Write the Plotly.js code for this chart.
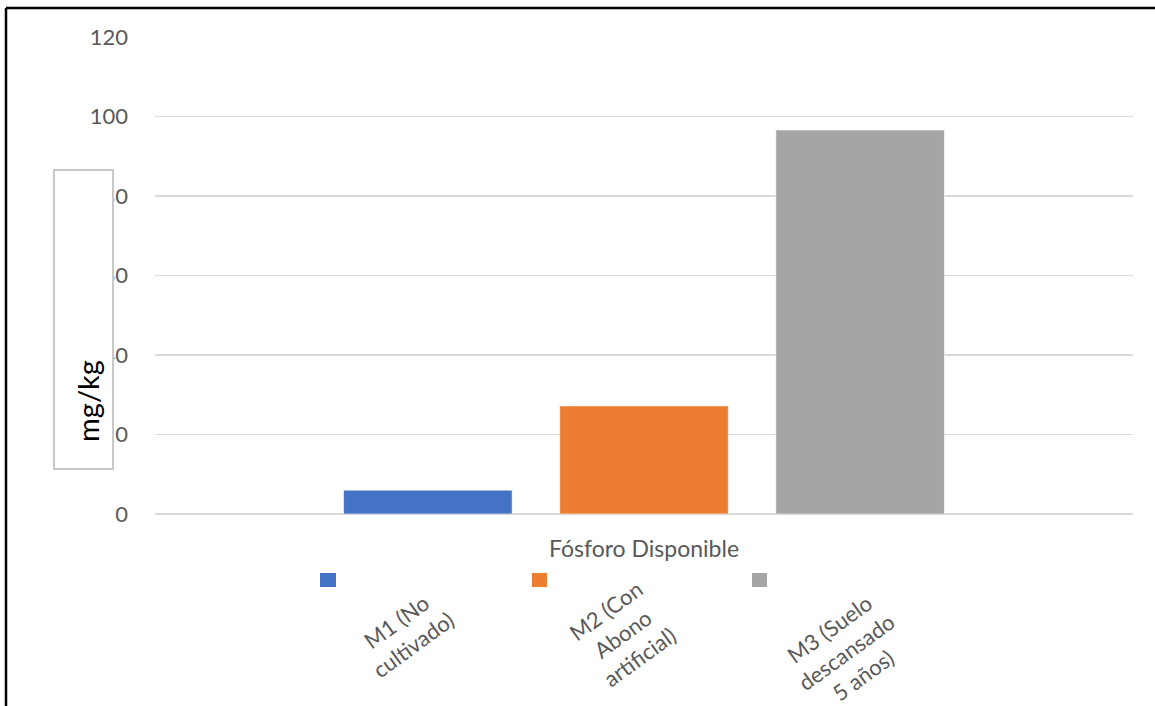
<!DOCTYPE html>
<html>
<head>
<meta charset="utf-8">
<script src="https://cdn.plot.ly/plotly-3.0.1.min.js"></script>
<style>html,body{margin:0;padding:0;background:#fff;}#chart{width:1155px;height:706px;}</style>
</head>
<body>
<div id="chart"></div>
<script>
const category = ["Fósforo Disponible"];
const seriesNames = ["M1 (No cultivado)", "M2 (Con Abono artificial)", "M3 (Suelo descansado 5 años)"];
const seriesLabelLines = ["M1 (No<br>cultivado)", "M2 (Con<br>Abono<br>artificial)", "M3 (Suelo<br>descansado<br>5 años)"];
const seriesValues = [6.0, 27.2, 96.6];
const seriesColors = ["#4472C4", "#ED7D31", "#A5A5A5"];
const yTicks = [0, 20, 40, 60, 80, 100, 120];

const textColor = "#595959";
const fontFam = "Lato, 'Open Sans', sans-serif";

const traces = seriesNames.map((n, i) => ({
  type: "bar",
  name: n,
  x: category,
  y: [seriesValues[i]],
  marker: {color: seriesColors[i], line: {color: "rgba(255,255,255,0.6)", width: 1}},
  showlegend: false,
  hoverinfo: "y+name"
}));

// pixel -> paper helpers (plot area 155..1133 x, 37..514 y)
const L = 155, R = 1133, T = 37, B = 514;
const px = v => (v - L) / (R - L);
const py = v => (B - v) / (B - T);

const legendSquares = [[320, 336], [532, 547], [752, 767]];
const legendCenters = [[405, 633], [622, 634], [846, 652]];

const shapes = [
  {type: "line", xref: "paper", yref: "paper", x0: px(6), x1: px(1160), y0: py(8), y1: py(8), line: {color: "#000", width: 2.5}},
  {type: "line", xref: "paper", yref: "paper", x0: px(6), x1: px(6), y0: py(8), y1: py(720), line: {color: "#000", width: 2.5}},
  {type: "rect", xref: "paper", yref: "paper", layer: "above", x0: px(54), x1: px(113), y0: py(170), y1: py(469), fillcolor: "#fff", line: {color: "#c8c8c8", width: 2}}
];
legendSquares.forEach((s, i) => {
  shapes.push({type: "rect", xref: "paper", yref: "paper", x0: px(s[0]), x1: px(s[1]), y0: py(587), y1: py(573), fillcolor: seriesColors[i], line: {width: 0}});
});

const annotations = [
  {xref: "paper", yref: "paper", x: px(87), y: py(401), text: "mg/kg", textangle: -90, showarrow: false, xanchor: "center", yanchor: "middle", font: {family: fontFam, size: 29, color: "#000"}}
];
legendCenters.forEach((c, i) => {
  annotations.push({xref: "paper", yref: "paper", x: px(c[0]), y: py(c[1]), text: seriesLabelLines[i], textangle: -36, showarrow: false, xanchor: "center", yanchor: "middle", align: "center", font: {family: fontFam, size: 22, color: textColor}});
});

const layout = {
  width: 1155, height: 706,
  margin: {l: L, r: 1155 - R, t: T, b: 706 - B, pad: 0},
  paper_bgcolor: "#fff", plot_bgcolor: "#fff",
  barmode: "group", bargap: 0.337, bargroupgap: 0.22,
  font: {family: fontFam, color: textColor},
  xaxis: {type: "category", range: [-0.5, 0.5], showgrid: false, zeroline: false, showline: false, ticks: "", ticklabelstandoff: 19, tickfont: {family: fontFam, size: 23, color: textColor}, fixedrange: true},
  yaxis: {range: [0, 120], tickvals: yTicks, ticktext: yTicks.map(String), showgrid: true, gridcolor: "#d9d9d9", gridwidth: 1.5, zeroline: true, zerolinecolor: "#d9d9d9", zerolinewidth: 1.5, showline: false, ticks: "", ticklabelstandoff: 26, tickfont: {family: fontFam, size: 22, color: textColor}, fixedrange: true},
  shapes: shapes,
  annotations: annotations
};

Plotly.newPlot("chart", traces, layout, {displayModeBar: false, staticPlot: true});
</script>
</body>
</html>
